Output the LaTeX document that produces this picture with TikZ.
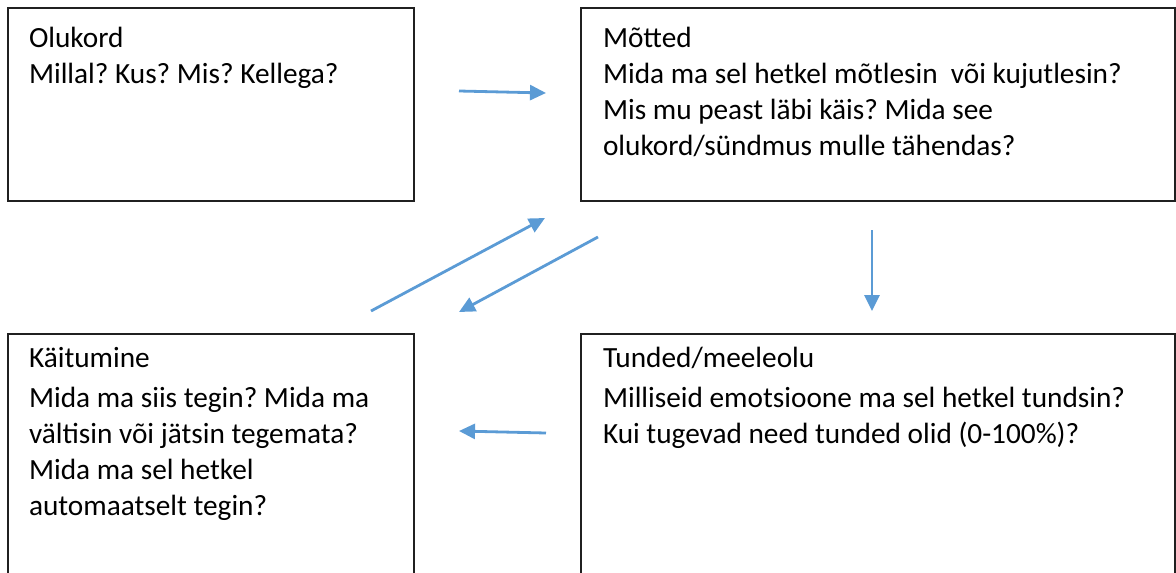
\documentclass[tikz,border=0pt]{standalone}
\usepackage{fontspec}
\setmainfont{Carlito}
\usetikzlibrary{arrows.meta}
\definecolor{arrowblue}{HTML}{5B9BD5}
\definecolor{boxline}{HTML}{202020}
\tikzset{
  box/.style={draw=boxline, line width=1.4pt},
  txt/.style={anchor=base west, inner sep=0pt, outer sep=0pt},
  flow/.style={draw=arrowblue, line width=2.8pt, -{Triangle[length=16pt,width=15pt]}}
}
\frenchspacing
\newcommand{\boxtext}[1]{\parbox[t]{570pt}{\fontsize{29.3}{36}\selectfont #1}}
\begin{document}
\begin{tikzpicture}[x=1pt,y=-1pt]
\useasboundingbox (0,0) rectangle (1176,573);
% boxes
\draw[box] (8,8) rectangle (414,201);
\draw[box] (581,8) rectangle (1175,201);
\draw[box] (8,334) rectangle (414,600);
\draw[box] (581,334) rectangle (1175,600);
% texts
\node[txt] (t1a) at (29,47) {\boxtext{Olukord}};
\node[txt] (t1b) at (29,83) {\boxtext{Millal? Kus? Mis? Kellega?}};
\node[txt] (t2a) at (603,47) {\boxtext{Mõtted}};
\node[txt] (t2b) at (603,83) {\boxtext{Mida ma sel hetkel mõtlesin\ \ või kujutlesin?\\Mis mu peast läbi käis? Mida see\\olukord/sündmus mulle tähendas?}};
\node[txt] (t3a) at (29,367) {\boxtext{Käitumine}};
\node[txt] (t3b) at (29,407) {\boxtext{Mida ma siis tegin? Mida ma\\vältisin või jätsin tegemata?\\Mida ma sel hetkel\\automaatselt tegin?}};
\node[txt] (t4a) at (603,367) {\boxtext{Tunded/meeleolu}};
\node[txt] (t4b) at (603,407) {\boxtext{Milliseid emotsioone ma sel hetkel tundsin?\\Kui tugevad need tunded olid (0-100\%)?}};
% arrow end points
\coordinate (a1s) at (459,91);
\coordinate (a1e) at (546,93);
\coordinate (a2s) at (872,230);
\coordinate (a2e) at (872,311);
\coordinate (a3s) at (546,433);
\coordinate (a3e) at (459,431);
\coordinate (a4s) at (371,311);
\coordinate (a4e) at (545,218);
\coordinate (a5s) at (598,237);
\coordinate (a5e) at (459,312);
\draw[flow] (a1s) -- (a1e);
\draw[flow] (a2s) -- (a2e);
\draw[flow] (a3s) -- (a3e);
\draw[flow] (a4s) -- (a4e);
\draw[flow] (a5s) -- (a5e);
\end{tikzpicture}
\end{document}
